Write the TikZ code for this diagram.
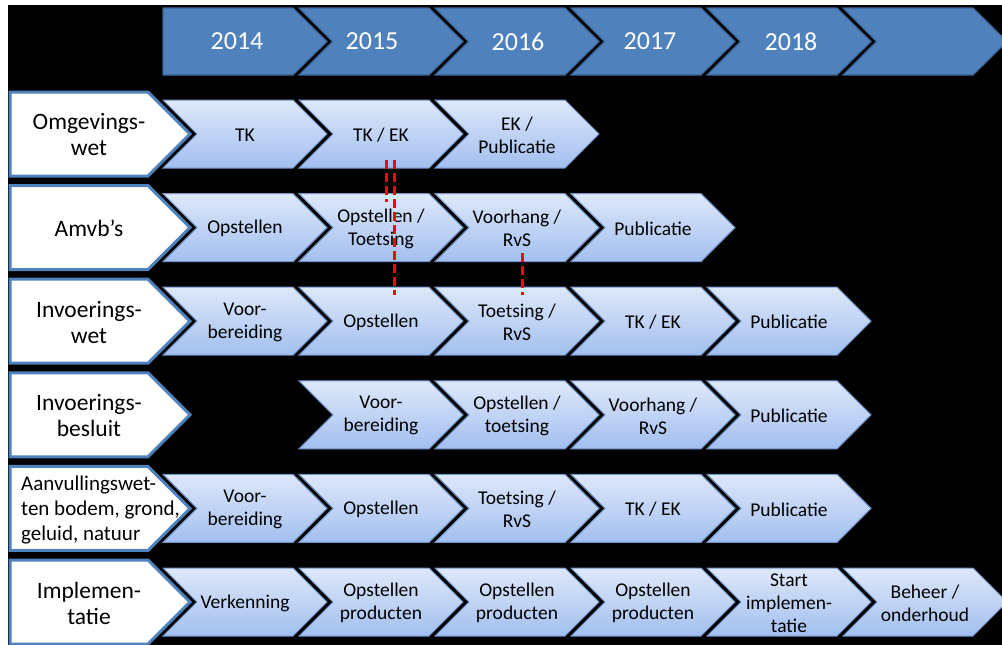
\documentclass[tikz,border=0pt]{standalone}
\usepackage{fontspec}
\setmainfont{Carlito}
\definecolor{hdr}{HTML}{4F81BD}
\definecolor{hdrline}{HTML}{3A6595}
\definecolor{ctop}{HTML}{DEE8FA}
\definecolor{cbot}{HTML}{A2BFEF}
\definecolor{cline}{HTML}{7193C8}
\definecolor{lblline}{HTML}{4F81BD}
\definecolor{dashred}{HTML}{FF0000}
\tikzset{
  chevtext/.style={align=center, inner sep=0pt, font=\fontsize{19.5}{23}\selectfont, text=black},
  lbltext/.style={align=center, inner sep=0pt, font=\fontsize{23.5}{26}\selectfont, text=black},
  yeartext/.style={inner sep=0pt, font=\fontsize{26}{30}\selectfont, text=white},
  chevshape/.style={draw=cline, line width=1pt, top color=ctop, bottom color=cbot},
  hdrshape/.style={draw=hdrline, line width=1.2pt, fill=hdr},
  lblshape/.style={draw=lblline, line width=3pt, fill=white},
  reddash/.style={draw=dashred, line width=3pt, dash pattern=on 9pt off 4pt}
}
% row chevron: name, x0, y centre, text
\newcommand\rowchev[4]{%
  \path[chevshape] (#2,#3-34) -- (#2+130,#3-34) -- (#2+164,#3) -- (#2+130,#3+34) -- (#2,#3+34) -- (#2+34,#3) -- cycle;
  \node[chevtext] (#1) at (#2+82,#3+1) {#4};
}
% header chevron with notch: name, x0, text x, text
\newcommand\hdrchev[4]{%
  \path[hdrshape] (#2,8) -- (#2+130,8) -- (#2+164,41.5) -- (#2+130,75) -- (#2,75) -- (#2+33.5,41.5) -- cycle;
  \node[yeartext] (#1) at (#3,41.5) {#4};
}
% row label: name, y centre, text
\newcommand\rowlabel[3]{%
  \path[lblshape] (10,#2-42) -- (148,#2-42) -- (190,#2) -- (148,#2+42) -- (10,#2+42) -- cycle;
  \node[lbltext] (#1) at (89,#2+1) {#3};
}
\begin{document}
\begin{tikzpicture}[x=1pt, y=-1pt]
\useasboundingbox (0,0) rectangle (1002,645);
\fill[white] (0,0) rectangle (1002,645);
\fill[black] (8,5) rectangle (1002,645);
% header
\path[hdrshape] (163,8) -- (293,8) -- (327,41.5) -- (293,75) -- (163,75) -- cycle;
\node[yeartext] (y2014) at (237,41.5) {2014};
\hdrchev{y2015}{299}{372}{2015}
\hdrchev{y2016}{435}{518}{2016}
\hdrchev{y2017}{571}{650}{2017}
\hdrchev{y2018}{707}{791}{2018}
\hdrchev{yend}{843}{925}{}
% row 1
\rowlabel{l1}{134}{Omgevings-\\wet}
\rowchev{a1}{163}{134}{TK}
\rowchev{a2}{299}{134}{TK / EK}
\rowchev{a3}{435}{134}{EK /\\Publicatie}
% row 2
\rowlabel{l2}{227.6}{Amvb’s}
\rowchev{b1}{163}{227.6}{Opstellen}
\rowchev{b2}{299}{227.6}{Opstellen /\\Toetsing}
\rowchev{b3}{435}{227.6}{Voorhang /\\RvS}
\rowchev{b4}{571}{227.6}{Publicatie}
% row 3
\rowlabel{l3}{321.2}{Invoerings-\\wet}
\rowchev{c1}{163}{321.2}{Voor-\\bereiding}
\rowchev{c2}{299}{321.2}{Opstellen}
\rowchev{c3}{435}{321.2}{Toetsing /\\RvS}
\rowchev{c4}{571}{321.2}{TK / EK}
\rowchev{c5}{707}{321.2}{Publicatie}
% row 4
\rowlabel{l4}{414.8}{Invoerings-\\besluit}
\rowchev{d2}{299}{414.8}{Voor-\\bereiding}
\rowchev{d3}{435}{414.8}{Opstellen /\\toetsing}
\rowchev{d4}{571}{414.8}{Voorhang /\\RvS}
\rowchev{d5}{707}{414.8}{Publicatie}
% row 5
\path[lblshape] (10,508.4-42) -- (148,508.4-42) -- (190,508.4) -- (148,508.4+42) -- (10,508.4+42) -- cycle;
\node[align=left, inner sep=0pt, anchor=west, font=\fontsize{21}{25}\selectfont] (l5) at (21,510) {Aanvullingswet-\\ten bodem, grond,\\geluid, natuur};
\rowchev{e1}{163}{508.4}{Voor-\\bereiding}
\rowchev{e2}{299}{508.4}{Opstellen}
\rowchev{e3}{435}{508.4}{Toetsing /\\RvS}
\rowchev{e4}{571}{508.4}{TK / EK}
\rowchev{e5}{707}{508.4}{Publicatie}
% row 6
\rowlabel{l6}{602}{Implemen-\\tatie}
\rowchev{f1}{163}{602}{Verkenning}
\rowchev{f2}{299}{602}{Opstellen\\producten}
\rowchev{f3}{435}{602}{Opstellen\\producten}
\rowchev{f4}{571}{602}{Opstellen\\producten}
\rowchev{f5}{707}{602}{Start\\implemen-\\tatie}
\rowchev{f6}{843}{602}{Beheer /\\onderhoud}
% red dashed markers
\coordinate (ra1) at (386,160);
\coordinate (ra2) at (386,202);
\coordinate (rb1) at (394,160);
\coordinate (rb2) at (394,295);
\coordinate (rc1) at (522,253);
\coordinate (rc2) at (522,295);
\draw[reddash] (ra1) -- (ra2);
\draw[reddash] (rb1) -- (rb2);
\draw[reddash] (rc1) -- (rc2);
\end{tikzpicture}
\end{document}
